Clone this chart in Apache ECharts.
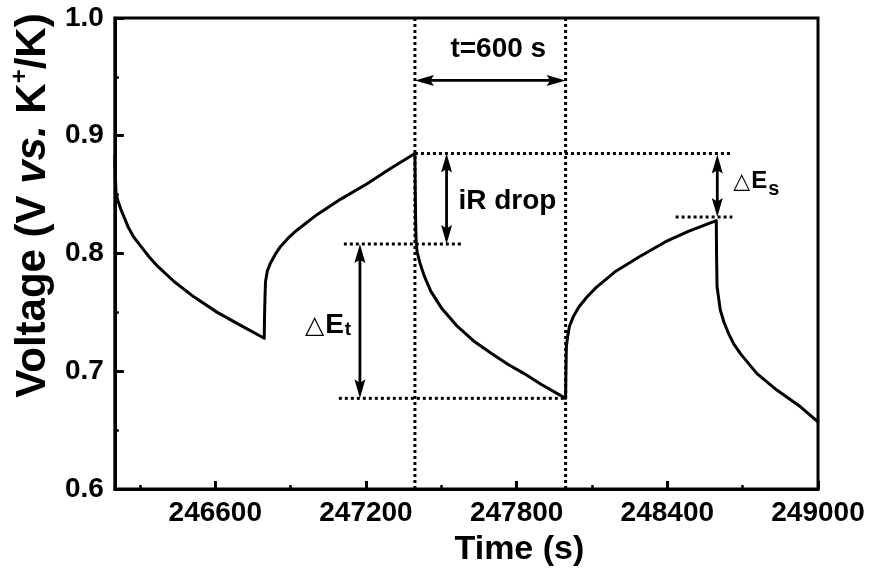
<!DOCTYPE html>
<html>
<head>
<meta charset="utf-8">
<script src="https://cdn.jsdelivr.net/npm/echarts@6/dist/echarts.min.js"></script>
<style>
  html, body { margin: 0; padding: 0; background: #fff; }
  #chart { width: 872px; height: 575px; }
</style>
</head>
<body>
<div id="chart"></div>
<script>
// Galvanostatic pulse sequence: time (s) and potential (V vs. K+/K)
const timeS = [
  246200, 246202, 246205, 246212, 246225, 246252, 246275, 246304, 246337, 246371, 246437, 246516, 246608, 246701, 246795,
  246796, 246798, 246800, 246807, 246820, 246838, 246860, 246890, 246926, 247005, 247098, 247203, 247296, 247395,
  247396, 247398, 247400, 247404, 247415, 247432, 247458, 247503, 247560, 247633, 247700, 247765, 247830, 247897, 247995,
  247996, 247998, 248003, 248010, 248027, 248049, 248080, 248116, 248195, 248287, 248393, 248486, 248595,
  248596, 248598, 248605, 248611, 248625, 248644, 248665, 248691, 248757, 248836, 248929, 249000
];
const voltageV = [
  0.883, 0.866, 0.851, 0.845, 0.837, 0.823, 0.814, 0.806, 0.797, 0.789, 0.776, 0.763, 0.750, 0.739, 0.728,
  0.745, 0.763, 0.776, 0.785, 0.792, 0.799, 0.806, 0.813, 0.820, 0.833, 0.846, 0.859, 0.872, 0.885,
  0.860, 0.825, 0.809, 0.801, 0.792, 0.781, 0.768, 0.753, 0.739, 0.725, 0.715, 0.706, 0.698, 0.689, 0.677,
  0.695, 0.721, 0.729, 0.738, 0.747, 0.755, 0.763, 0.771, 0.785, 0.797, 0.810, 0.819, 0.828,
  0.800, 0.772, 0.761, 0.752, 0.742, 0.732, 0.723, 0.715, 0.698, 0.684, 0.670, 0.657
];

// Axis ticks
const xMajorTicks = [246600, 247200, 247800, 248400, 249000];
const xMinorTicks = [246300, 246900, 247500, 248100, 248700];
const yTickStep = 0.1;

// Dotted guide segments: [x1, y1, x2, y2]
const guideLines = [
  [247395, 0.6, 247395, 1.0],
  [247995, 0.6, 247995, 1.0],
  [247395, 0.885, 248659, 0.885],
  [247112, 0.808, 247588, 0.808],
  [247092, 0.677, 247995, 0.677],
  [248433, 0.831, 248659, 0.831]
];

// Double-headed arrows: [x1, y1, x2, y2]
const arrows = [
  [247395, 0.947, 247995, 0.947],
  [247176, 0.808, 247176, 0.677],
  [247521, 0.885, 247521, 0.808],
  [248599, 0.884, 248599, 0.831]
];

// Annotation labels: [x, y]
const noteX = [247727, 247568, 246957, 248663];
const noteY = [0.9737, 0.8446, 0.7394, 0.8560];
const noteText = ['t=600 s', 'iR drop', '{tri|△}{e|E}{sub|t}', '{tri2|△}{e2|E}{sub2|s}'];
const noteAlign = ['center', 'left', 'left', 'left'];

const FONT = '"Liberation Sans", Arial, Helvetica, sans-serif';

const chart = echarts.init(document.getElementById('chart'), null, { renderer: 'canvas' });

const seriesData = timeS.map((t, i) => [t, voltageV[i]]);

chart.setOption({
  animation: false,
  backgroundColor: '#fff',
  grid: {
    left: 112, right: 54, top: 18, bottom: 86,
    show: true, borderColor: '#000', borderWidth: 3, backgroundColor: 'transparent'
  },
  xAxis: [
    {
      type: 'value', min: 246200, max: 249000, position: 'bottom',
      name: 'Time (s)', nameLocation: 'middle', nameGap: 44,
      nameTextStyle: { fontFamily: FONT, fontWeight: 'bold', fontStyle: 'normal', fontSize: 34, color: '#000', padding: [0, 0, 0, 106] },
      axisLine: { show: true, lineStyle: { color: '#000', width: 3 } },
      axisTick: { show: true, inside: true, length: 8, lineStyle: { color: '#000', width: 3 }, customValues: xMajorTicks },
      axisLabel: {
        show: true, margin: 10, fontFamily: FONT, fontWeight: 'bold', fontSize: 28, color: '#000',
        customValues: xMajorTicks, formatter: v => String(v)
      },
      splitLine: { show: false }
    },
    {
      type: 'value', min: 246200, max: 249000, position: 'bottom', gridIndex: 0,
      axisLine: { show: false },
      axisTick: { show: true, inside: true, length: 4, lineStyle: { color: '#000', width: 2.5 }, customValues: xMinorTicks },
      axisLabel: { show: false },
      splitLine: { show: false }
    }
  ],
  yAxis: {
    type: 'value', min: 0.6, max: 1.0, interval: yTickStep,
    name: '{a|Voltage (V }{vs|vs.}{a| K}{sup|+}{a|/K)}',
    nameLocation: 'middle', nameGap: 56, nameRotate: 90,
    nameTextStyle: {
      color: '#000', fontStyle: 'normal', fontWeight: 'bold', fontFamily: FONT, fontSize: 42, padding: [0, 0, 0, 96],
      rich: {
        a: { fontFamily: FONT, fontWeight: 'bold', fontStyle: 'normal', fontSize: 42, lineHeight: 50, color: '#000' },
        vs: { fontFamily: FONT, fontWeight: 'bold', fontStyle: 'italic', fontSize: 42, lineHeight: 50, color: '#000' },
        sup: { fontFamily: FONT, fontWeight: 'bold', fontStyle: 'normal', fontSize: 24, lineHeight: 24, verticalAlign: 'top', color: '#000' }
      }
    },
    axisLine: { show: true, lineStyle: { color: '#000', width: 3 } },
    axisTick: { show: true, inside: true, length: 9, lineStyle: { color: '#000', width: 3 } },
    minorTick: { show: true, splitNumber: 2, length: 4, lineStyle: { color: '#000', width: 2.5 } },
    axisLabel: {
      margin: 11, fontFamily: FONT, fontWeight: 'bold', fontSize: 28, color: '#000',
      formatter: v => v.toFixed(1)
    },
    splitLine: { show: false }
  },
  series: [
    {
      type: 'line', data: seriesData, xAxisIndex: 0, yAxisIndex: 0,
      symbol: 'none', smooth: false,
      lineStyle: { color: '#000', width: 3, join: 'round', cap: 'round' }, z: 5
    },
    {
      type: 'custom', coordinateSystem: 'cartesian2d', xAxisIndex: 0, yAxisIndex: 0,
      data: guideLines, encode: { x: [0, 2], y: [1, 3] }, z: 3, silent: true,
      renderItem: (params, api) => {
        const a = api.coord([api.value(0), api.value(1)]);
        const b = api.coord([api.value(2), api.value(3)]);
        return {
          type: 'line',
          shape: { x1: a[0], y1: a[1], x2: b[0], y2: b[1] },
          style: { stroke: '#000', lineWidth: 3, lineDash: [3, 3], fill: null }
        };
      }
    },
    {
      type: 'custom', coordinateSystem: 'cartesian2d', xAxisIndex: 0, yAxisIndex: 0,
      data: arrows, encode: { x: [0, 2], y: [1, 3] }, z: 6, silent: true,
      renderItem: (params, api) => {
        const a = api.coord([api.value(0), api.value(1)]);
        const b = api.coord([api.value(2), api.value(3)]);
        const dx = b[0] - a[0], dy = b[1] - a[1];
        const len = Math.hypot(dx, dy);
        const ux = dx / len, uy = dy / len;
        const nx = -uy, ny = ux;
        const L = 19, W = 5.5, notch = 0.82;
        const head = (tip, s) => {
          const bx = tip[0] + s * ux * L, by = tip[1] + s * uy * L;
          return {
            type: 'polygon',
            shape: { points: [
              [tip[0], tip[1]],
              [bx + nx * W, by + ny * W],
              [tip[0] + s * ux * L * notch, tip[1] + s * uy * L * notch],
              [bx - nx * W, by - ny * W]
            ] },
            style: { fill: '#000', stroke: null }
          };
        };
        return {
          type: 'group',
          children: [
            {
              type: 'line',
              shape: { x1: a[0] + ux * L * 0.7, y1: a[1] + uy * L * 0.7, x2: b[0] - ux * L * 0.7, y2: b[1] - uy * L * 0.7 },
              style: { stroke: '#000', lineWidth: 2.8, fill: null }
            },
            head(a, 1),
            head(b, -1)
          ]
        };
      }
    },
    {
      type: 'custom', coordinateSystem: 'cartesian2d', xAxisIndex: 0, yAxisIndex: 0,
      data: noteX.map((x, i) => [x, noteY[i], i]), encode: { x: 0, y: 1 }, z: 7, silent: true, clip: false,
      renderItem: (params, api) => {
        const i = api.value(2);
        const p = api.coord([api.value(0), api.value(1)]);
        return {
          type: 'text', x: p[0], y: p[1],
          style: {
            text: noteText[i], fill: '#000', align: noteAlign[i], verticalAlign: 'middle',
            fontFamily: FONT, fontWeight: 'bold', fontSize: 28,
            rich: {
              tri: { fontFamily: '"DejaVu Sans", sans-serif', fontWeight: 'normal', fontSize: 25, lineHeight: 28, verticalAlign: 'bottom', padding: [0, 1, 0, 0] },
              e: { fontFamily: FONT, fontWeight: 'bold', fontSize: 28, lineHeight: 28, verticalAlign: 'bottom' },
              sub: { fontFamily: FONT, fontWeight: 'bold', fontSize: 19, lineHeight: 19, verticalAlign: 'bottom', padding: [0, 0, 0, 1] },
              tri2: { fontFamily: '"DejaVu Sans", sans-serif', fontWeight: 'normal', fontSize: 22, lineHeight: 24, verticalAlign: 'bottom', padding: [0, 1, 6, 0] },
              e2: { fontFamily: FONT, fontWeight: 'bold', fontSize: 24, lineHeight: 24, verticalAlign: 'bottom', padding: [0, 0, 6, 0] },
              sub2: { fontFamily: FONT, fontWeight: 'bold', fontSize: 20, lineHeight: 20, verticalAlign: 'bottom', padding: [0, 0, 0, 1] }
            }
          }
        };
      }
    }
  ]
});
</script>
</body>
</html>
